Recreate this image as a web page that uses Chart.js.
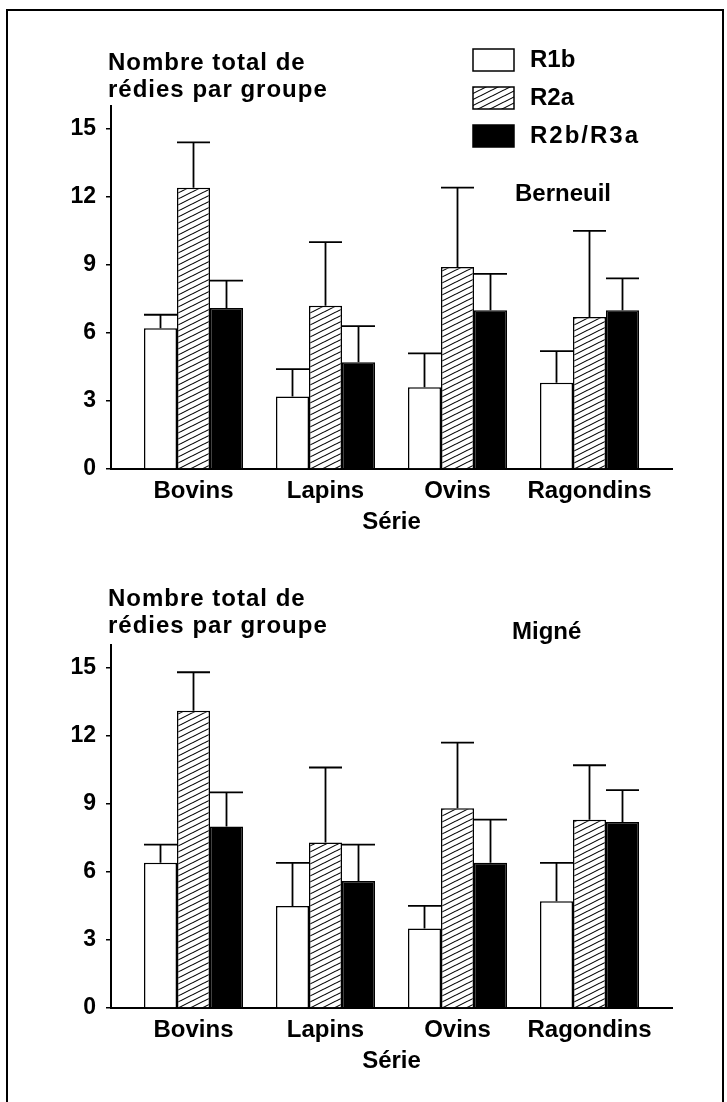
<!DOCTYPE html>
<html>
<head>
<meta charset="utf-8">
<script src="https://cdn.jsdelivr.net/npm/chart.js@4/dist/chart.umd.min.js"></script>
<style>
  html, body { margin: 0; padding: 0; background: #fff; }
  #page { position: relative; width: 727px; height: 1102px; overflow: hidden; background: #fff; }
  #frame { position: absolute; left: 6px; top: 9px; width: 714px; height: 1100px;
           border: 2px solid #000; border-bottom: none; }
  canvas { position: absolute; left: 0; }
  #chartBerneuil { top: 0; }
  #chartMigne { top: 539px; }
</style>
</head>
<body>
<div id="page">
  <div id="frame"></div>
  <canvas id="chartBerneuil" width="727" height="539"></canvas>
  <canvas id="chartMigne" width="727" height="539"></canvas>
</div>
<script>
// Categories, series and axis labels
const categories = ['Bovins', 'Lapins', 'Ovins', 'Ragondins'];
const seriesNames = ['R1b', 'R2a', 'R2b/R3a'];
const yTickValues = [0, 3, 6, 9, 12, 15];
const yAxisMax = 16;
const yAxisTitle = ['Nombre total de', 'rédies par groupe'];
const xAxisTitle = 'Série';
const siteNames = ['Berneuil', 'Migné'];

// Berneuil: means and error (upper) bars
const berneuilR1b = [6.2, 3.2, 3.6, 3.8];
const berneuilR2a = [12.4, 7.2, 8.9, 6.7];
const berneuilR2b = [7.1, 4.7, 7.0, 7.0];
const berneuilR1bErr = [0.6, 1.2, 1.5, 1.4];
const berneuilR2aErr = [2.0, 2.8, 3.5, 3.8];
const berneuilR2bErr = [1.2, 1.6, 1.6, 1.4];

// Migné: means and error (upper) bars
const migneR1b = [6.4, 4.5, 3.5, 4.7];
const migneR2a = [13.1, 7.3, 8.8, 8.3];
const migneR2b = [8.0, 5.6, 6.4, 8.2];
const migneR1bErr = [0.8, 1.9, 1.0, 1.7];
const migneR2aErr = [1.7, 3.3, 2.9, 2.4];
const migneR2bErr = [1.5, 1.6, 1.9, 1.4];

const FONT = '"Liberation Sans", Arial, Helvetica, sans-serif';
Chart.defaults.font.family = FONT;
Chart.defaults.color = '#000';

// Diagonal hatch fill for the R2a bars
function makeHatch() {
  const c = document.createElement('canvas');
  c.width = 12; c.height = 6;
  const g = c.getContext('2d');
  g.fillStyle = '#fff';
  g.fillRect(0, 0, 12, 6);
  g.strokeStyle = '#000';
  g.lineWidth = 1.1;
  g.beginPath();
  for (const k of [0, 6, 12]) {
    g.moveTo(-2, k + 1);
    g.lineTo(14, k - 7);
  }
  g.stroke();
  return g.createPattern(c, 'repeat');
}
const hatch = makeHatch();

function buildDatasets(r1b, r2a, r2b, e1, e2, e3) {
  const pts = arr => arr.map((v, i) => ({ x: i, y: v }));
  const common = { borderColor: '#000', borderWidth: 1.5, categoryPercentage: 0.75, barPercentage: 1 };
  return [
    Object.assign({ label: seriesNames[0], data: pts(r1b), errors: e1, backgroundColor: '#fff' }, common),
    Object.assign({ label: seriesNames[1], data: pts(r2a), errors: e2, backgroundColor: hatch }, common),
    Object.assign({ label: seriesNames[2], data: pts(r2b), errors: e3, backgroundColor: '#000' }, common)
  ];
}

// Upper error bars with a cap as wide as the bar
const errorBars = {
  id: 'errorBars',
  afterDatasetsDraw(chart) {
    const { ctx } = chart;
    const yScale = chart.scales.y;
    ctx.save();
    ctx.strokeStyle = '#000';
    ctx.lineWidth = 1.8;
    chart.data.datasets.forEach((ds, di) => {
      const meta = chart.getDatasetMeta(di);
      meta.data.forEach((bar, i) => {
        const top = yScale.getPixelForValue(ds.data[i].y + ds.errors[i]);
        const half = bar.width / 2;
        ctx.beginPath();
        ctx.moveTo(bar.x, bar.y);
        ctx.lineTo(bar.x, top);
        ctx.moveTo(bar.x - half, top);
        ctx.lineTo(bar.x + half, top);
        ctx.stroke();
      });
    });
    ctx.restore();
  }
};

// Horizontal axis heading, site name and the boxed legend
const annotations = {
  id: 'annotations',
  afterDraw(chart, args, opts) {
    const ctx = chart.ctx;
    ctx.save();
    ctx.fillStyle = '#000';
    ctx.font = 'bold 24px ' + FONT;
    ctx.textBaseline = 'middle';
    ctx.textAlign = 'left';
    if ('letterSpacing' in ctx) ctx.letterSpacing = '1px';
    yAxisTitle.forEach((t, k) => ctx.fillText(t, opts.titleX, opts.titleY + k * opts.titleGap));
    if ('letterSpacing' in ctx) ctx.letterSpacing = '0px';
    ctx.fillText(opts.site, opts.siteX, opts.siteY);
    if (opts.legend) {
      chart.data.datasets.forEach((ds, k) => {
        const yc = opts.legendY + k * opts.legendGap;
        ctx.fillStyle = ds.backgroundColor;
        ctx.fillRect(opts.legendX, yc - 11, 41, 22);
        ctx.strokeStyle = '#000';
        ctx.lineWidth = 1.5;
        ctx.strokeRect(opts.legendX, yc - 11, 41, 22);
        ctx.fillStyle = '#000';
        if ('letterSpacing' in ctx) ctx.letterSpacing = k === 2 ? '2px' : '0px';
        ctx.fillText(ds.label, opts.legendX + 57, yc);
      });
    }
    ctx.restore();
  }
};

function makeChart(id, datasets, annot) {
  return new Chart(document.getElementById(id), {
    type: 'bar',
    data: { datasets },
    options: {
      responsive: false,
      animation: false,
      devicePixelRatio: 1,
      layout: { padding: { top: 106, right: 55, bottom: 0, left: 0 } },
      plugins: {
        legend: { display: false },
        tooltip: { enabled: false },
        annotations: annot
      },
      scales: {
        x: {
          type: 'linear',
          min: -0.625,
          max: 3.625,
          offset: false,
          afterBuildTicks: s => { s.ticks = categories.map((c, i) => ({ value: i })); },
          afterFit: s => { s.height = 70; },
          ticks: {
            callback: v => categories[v] ?? '',
            color: '#000',
            font: { size: 24, weight: 'bold' },
            padding: 8,
            maxRotation: 0,
            autoSkip: false
          },
          grid: { display: true, drawOnChartArea: false, drawTicks: false },
          border: { display: true, color: '#000', width: 2 },
          title: {
            display: true,
            text: xAxisTitle,
            color: '#000',
            font: { size: 24, weight: 'bold' },
            padding: { top: 0, bottom: 2 }
          }
        },
        y: {
          min: 0,
          max: yAxisMax,
          afterBuildTicks: s => { s.ticks = yTickValues.map(v => ({ value: v })); },
          afterFit: s => { s.width = 111; },
          ticks: { color: '#000', font: { size: 23, weight: 'bold' }, padding: 10 },
          grid: { drawOnChartArea: false, drawTicks: true, tickLength: 5, color: '#000', lineWidth: 1.5 },
          border: { display: true, color: '#000', width: 2 }
        }
      }
    },
    plugins: [errorBars, annotations]
  });
}

makeChart('chartBerneuil',
  buildDatasets(berneuilR1b, berneuilR2a, berneuilR2b, berneuilR1bErr, berneuilR2aErr, berneuilR2bErr),
  { titleX: 108, titleY: 63, titleGap: 27, site: siteNames[0], siteX: 515, siteY: 194,
    legend: true, legendX: 473, legendY: 60, legendGap: 38 });

makeChart('chartMigne',
  buildDatasets(migneR1b, migneR2a, migneR2b, migneR1bErr, migneR2aErr, migneR2bErr),
  { titleX: 108, titleY: 60, titleGap: 27, site: siteNames[1], siteX: 512, siteY: 93,
    legend: false });
</script>
</body>
</html>
